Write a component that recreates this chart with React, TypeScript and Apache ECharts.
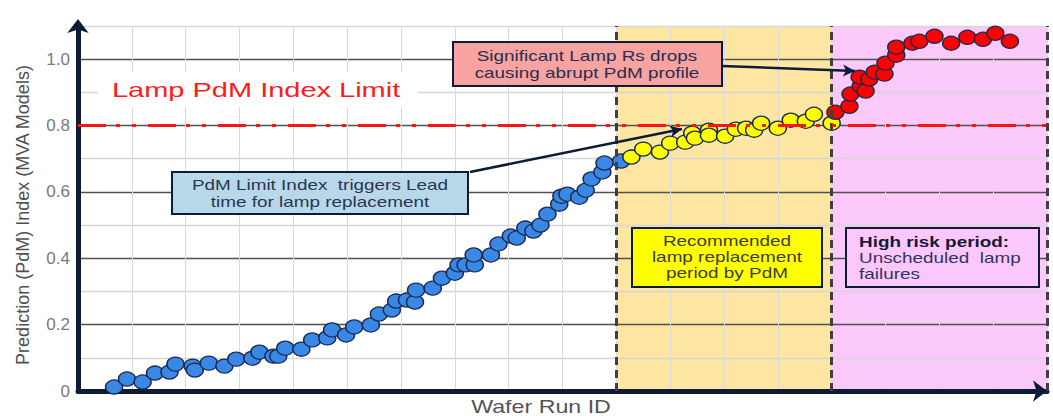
import React, { useEffect, useRef } from "react";
import * as echarts from "echarts";

// Wafer run position (x) and PdM index (y)
const bluePoints: number[][] = [
  [0.67, 0.012], [0.91, 0.036], [1.2, 0.027], [1.43, 0.054], [1.7, 0.057], [1.81, 0.081],
  [2.13, 0.075], [2.17, 0.063], [2.43, 0.084], [2.72, 0.075], [2.94, 0.096], [3.24, 0.099],
  [3.37, 0.117], [3.63, 0.105], [3.72, 0.105], [3.85, 0.129], [4.15, 0.126], [4.35, 0.154],
  [4.63, 0.16], [4.72, 0.184], [4.98, 0.169], [5.13, 0.193], [5.44, 0.199], [5.59, 0.232],
  [5.83, 0.244], [5.91, 0.271], [6.11, 0.274], [6.26, 0.268], [6.28, 0.304], [6.59, 0.31],
  [6.76, 0.34], [7.0, 0.355], [7.07, 0.38], [7.2, 0.38], [7.37, 0.38], [7.35, 0.41],
  [7.67, 0.41], [7.81, 0.443], [8.04, 0.467], [8.15, 0.461], [8.31, 0.491], [8.46, 0.482],
  [8.59, 0.5], [8.72, 0.533], [8.94, 0.563], [8.98, 0.587], [9.09, 0.593], [9.31, 0.584],
  [9.43, 0.605], [9.54, 0.639], [9.74, 0.66], [9.78, 0.687], [10.09, 0.693],
];
const yellowPoints: number[][] = [
  [10.28, 0.705], [10.5, 0.729], [10.81, 0.72], [11.0, 0.747], [11.28, 0.75], [11.41, 0.777],
  [11.46, 0.762], [11.72, 0.786], [11.72, 0.771], [12.02, 0.768], [12.22, 0.789], [12.41, 0.792],
  [12.56, 0.786], [12.69, 0.807], [13.0, 0.792], [13.24, 0.816], [13.52, 0.813], [13.67, 0.834],
  [14.0, 0.807],
];
const redPoints: number[][] = [
  [14.07, 0.84], [14.33, 0.858], [14.35, 0.895], [14.54, 0.919], [14.63, 0.904], [14.52, 0.946],
  [14.7, 0.94], [14.8, 0.961], [14.98, 0.955], [15.0, 0.988], [15.2, 1.012], [15.2, 1.036],
  [15.5, 1.048], [15.63, 1.054], [15.91, 1.069], [16.22, 1.048], [16.52, 1.066], [16.81, 1.06],
  [17.04, 1.078], [17.31, 1.054],
];
const limitValue = 0.8;
const periodBounds = [10, 14, 18];
const yTickLabels = ["0", "0.2", "0.4", "0.6", "0.8", "1.0"];

const FONT = "Liberation Sans, Arial, sans-serif";
const NAVY = "#0e1b36";

function txt(x: number, y: number, text: string, o: any = {}) {
  return {
    type: "text",
    x,
    y,
    scaleX: o.scaleX ?? 1.35,
    z: 110,
    silent: true,
    style: {
      text,
      fill: o.fill ?? "#2b3450",
      fontSize: o.fontSize ?? 14,
      fontFamily: FONT,
      fontWeight: o.fontWeight ?? "normal",
      align: o.align ?? "center",
      verticalAlign: "middle",
      textAlign: o.align ?? "center",
      textVerticalAlign: "middle",
    },
  };
}
function box(x: number, y: number, w: number, h: number, fill: string) {
  return {
    type: "rect",
    z: 100,
    silent: true,
    shape: { x, y, width: w, height: h },
    style: { fill, stroke: NAVY, lineWidth: 2 },
  };
}

export default function App() {
  const ref = useRef<HTMLDivElement>(null);
  useEffect(() => {
    const chart = echarts.init(ref.current!, undefined, { renderer: "svg" });
    const pointStyle = (color: string) => ({
      color,
      borderColor: "#1b2a4e",
      borderWidth: 1.4,
      opacity: 1,
    });
    chart.setOption({
      animation: false,
      textStyle: { fontFamily: FONT },
      grid: { left: 78, right: 6, top: 26, bottom: 25, containLabel: false },
      xAxis: {
        type: "value",
        min: 0,
        max: 18,
        interval: 1,
        z: 1.5,
        axisLabel: { show: false },
        axisTick: { show: false },
        axisLine: {
          show: true,
          symbol: ["none", "arrow"],
          symbolSize: [16, 14],
          lineStyle: { color: NAVY, width: 5 },
        },
        splitLine: { show: true, lineStyle: { color: "#dadada", width: 1 } },
      },
      yAxis: {
        type: "value",
        min: 0,
        max: 1.1,
        interval: 0.1,
        z: 1.5,
        axisTick: { show: false },
        axisLine: {
          show: true,
          symbol: ["none", "arrow"],
          symbolSize: [16, 14],
          symbolOffset: [0, 7],
          lineStyle: { color: NAVY, width: 5 },
        },
        axisLabel: {
          color: "#7a7a7a",
          fontSize: 17,
          margin: 8,
          fontFamily: FONT,
          formatter: (v: number) => {
            const k = Math.round(v * 10);
            return k % 2 === 0 && k / 2 < yTickLabels.length ? yTickLabels[k / 2] : "";
          },
        },
        splitLine: {
          show: true,
          lineStyle: { color: ["#505050", "#d6d6d6"], width: 1.3 },
        },
      },
      graphic: [
        { type: "rect", z: 50, silent: true, shape: { x: 98, y: 72, width: 320, height: 35 }, style: { fill: "#ffffff" } },
        txt(112, 90, "Lamp PdM Index Limit", { fill: "#ff1a1a", fontSize: 21, align: "left", scaleX: 1.38 }),
        box(453, 42, 269, 44, "#f8a2a2"),
        txt(587, 56, "Significant Lamp Rs drops", { fill: "#26304c" }),
        txt(587, 73, "causing abrupt PdM profile", { fill: "#26304c" }),
        box(172, 172, 296, 42, "#b8d8ea"),
        txt(320, 185, "PdM Limit Index  triggers Lead", { fill: "#2a3550" }),
        txt(320, 202, "time for lamp replacement", { fill: "#2a3550" }),
        box(632, 228, 190, 59, "#ffff00"),
        txt(727, 241, "Recommended", { fill: "#3d3d3d" }),
        txt(727, 257, "lamp replacement", { fill: "#3d3d3d" }),
        txt(727, 273, "period by PdM", { fill: "#3d3d3d" }),
        box(846, 228, 193, 59, "#fcc8fc"),
        txt(859, 242, "High risk period:", { fill: "#151a36", fontWeight: "bold", align: "left" }),
        txt(859, 258, "Unscheduled  lamp", { fill: "#2e3560", align: "left" }),
        txt(859, 274, "failures", { fill: "#2e3560", align: "left" }),
        txt(541, 407, "Wafer Run ID", { fill: "#555555", fontSize: 18, scaleX: 1.29 }),
        {
          type: "text",
          x: 23,
          y: 215,
          rotation: Math.PI / 2,
          z: 110,
          silent: true,
          style: {
            text: "Prediction (PdM) Index (MVA Models)",
            fill: "#505050",
            fontSize: 18,
            fontFamily: FONT,
            align: "center",
            verticalAlign: "middle",
            textAlign: "center",
            textVerticalAlign: "middle",
          },
        },
      ],
      series: [
        {
          type: "scatter",
          data: [],
          silent: true,
          markArea: {
            silent: true,
            data: [
              [{ xAxis: periodBounds[0], itemStyle: { color: "#fde5a2" } }, { xAxis: periodBounds[1] }],
              [{ xAxis: periodBounds[1], itemStyle: { color: "#fcc9fb" } }, { xAxis: periodBounds[2] }],
            ],
          },
          markLine: {
            silent: true,
            symbol: ["none", "none"],
            label: { show: false },
            lineStyle: { color: "#404040", width: 3, type: [8, 5] },
            data: periodBounds.map((b) => ({ xAxis: b })),
          },
        },
        {
          type: "scatter",
          z: 3,
          symbol: "circle",
          symbolSize: [17, 14],
          itemStyle: pointStyle("#3a88e6"),
          data: bluePoints,
          silent: true,
        },
        {
          type: "scatter",
          z: 3,
          symbol: "circle",
          symbolSize: [17, 14],
          itemStyle: pointStyle("#ffff00"),
          data: yellowPoints,
          silent: true,
        },
        {
          type: "scatter",
          z: 3,
          symbol: "circle",
          symbolSize: [17, 14],
          itemStyle: pointStyle("#ff0000"),
          data: redPoints,
          silent: true,
          markLine: {
            silent: true,
            label: { show: false },
            symbol: ["none", "none"],
            data: [
              {
                yAxis: limitValue,
                lineStyle: { color: "#ff1414", width: 3, type: [28, 10, 4, 12, 4, 12] },
              },
              [
                { x: 470, y: 172, symbol: "none", lineStyle: { color: NAVY, width: 2.5, type: "solid" } },
                { x: 682, y: 129, symbol: "arrow", symbolSize: [9, 12] },
              ],
              [
                { x: 722, y: 66, symbol: "none", lineStyle: { color: NAVY, width: 2.5, type: "solid" } },
                { x: 855, y: 71, symbol: "arrow", symbolSize: [9, 12] },
              ],
            ],
          },
        },
      ],
    });
    return () => chart.dispose();
  }, []);
  return (
    <div
      ref={ref}
      style={{ position: "fixed", left: 0, top: 0, width: 1053, height: 416, background: "#fff" }}
    />
  );
}
